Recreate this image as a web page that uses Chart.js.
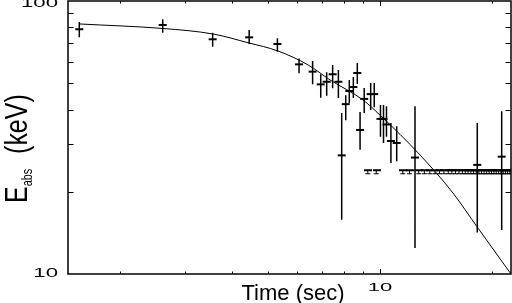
<!DOCTYPE html>
<html>
<head>
<meta charset="utf-8">
<script src="https://cdn.jsdelivr.net/npm/chart.js@4"></script>
<style>
  html, body { margin: 0; padding: 0; background: #fff; }
  canvas { display: block; }
</style>
</head>
<body>
<canvas id="grafik" width="512" height="303"></canvas>
<script>
// model curve
let curveT = [1.555, 2.61, 3.56, 4.44, 5.32, 6.41, 7.34, 9.0, 10.0, 12.81, 15.71, 18.23, 22.5];
let curveE = [82.4, 79.3, 75.7, 70.2, 65.6, 58.3, 51.4, 43.4, 38.2, 27.3, 19.8, 14.9, 10.0];

// measured points, with lower / upper ends of the error bars
let ptT  = [1.555, 2.606, 3.55, 4.45, 5.30, 6.06, 6.59, 6.93, 7.19, 7.46, 7.73, 7.89, 8.09, 8.27, 8.48, 8.69, 8.84, 9.07, 9.44, 9.65, 10.03, 10.22, 10.41, 10.70, 11.09, 12.42, 18.26, 21.24];
let ptE  = [78.8, 81.7, 72.4, 73.6, 69.6, 58.6, 55.1, 49.5, 50.6, 53.9, 50.6, 27.2, 41.9, 46.8, 48.4, 54.5, 33.7, 43.8, 45.6, 45.6, 37.0, 37.0, 35.3, 30.7, 30.2, 26.7, 25.1, 26.9];
let ptLo = [73.6, 76.5, 68.0, 69.6, 65.2, 54.4, 49.5, 44.2, 45.0, 47.9, 44.1, 15.8, 36.6, 42.3, 44.1, 49.7, 28.5, 38.9, 39.9, 40.8, 31.8, 30.2, 31.8, 25.5, 25.9, 12.45, 14.2, 14.5];
let ptHi = [83.8, 85.7, 76.5, 78.3, 73.0, 61.6, 60.3, 53.9, 54.8, 58.3, 55.9, 38.9, 45.2, 51.4, 52.7, 59.3, 39.2, 48.0, 50.1, 50.1, 41.6, 41.6, 41.2, 35.7, 34.8, 41.2, 35.7, 39.5];

// upper limits
let ulT = [9.30, 9.80, 11.55, 12.04, 12.75, 13.2, 13.65, 14.1, 14.5, 14.9, 15.3, 15.65, 16.0, 16.35, 16.7, 17.0, 17.3, 17.6, 17.9, 18.2, 18.5, 18.8, 19.1, 19.4, 19.7, 20.0, 20.3, 20.6, 20.9, 21.2, 21.5, 21.8, 22.1, 22.4];
let ulE = [24, 24, 24, 24, 24, 24, 24, 24, 24, 24, 24, 24, 24, 24, 24, 24, 24, 24, 24, 24, 24, 24, 24, 24, 24, 24, 24, 24, 24, 24, 24, 24, 24, 24];

// axis ticks
let xMinor = [2, 3, 4, 5, 6, 7, 8, 9, 20];
let xMajor = [10];
let yMinor = [20, 30, 40, 50, 60, 70, 80, 90];
let yLabels = [10, 100];

// little "upper limit" marker
let ulImg = document.createElement('canvas');
ulImg.width = 8; ulImg.height = 12;
let g = ulImg.getContext('2d');
g.fillStyle = '#000';
g.fillRect(0, 5, 8, 2);
g.fillRect(3, 6, 1, 4);
g.fillRect(1, 9, 5, 1);

function stretched(ctx, txt, x, y, sx, align) {
  ctx.save();
  ctx.translate(x, y);
  ctx.scale(sx, 1);
  ctx.textAlign = align;
  ctx.fillText(txt, 0, 0);
  ctx.restore();
}

let cerceve = {
  id: 'cerceve',
  afterDatasetsDraw(chart) {
    let ctx = chart.ctx, xs = chart.scales.x, ys = chart.scales.y;
    ctx.save();
    ctx.strokeStyle = '#000';
    ctx.lineWidth = 1.5;
    ctx.beginPath();
    for (let i = 0; i < ptT.length; i++) {
      let px = xs.getPixelForValue(ptT[i]);
      ctx.moveTo(px, ys.getPixelForValue(ptLo[i]));
      ctx.lineTo(px, ys.getPixelForValue(ptHi[i]));
    }
    ctx.stroke();
    ctx.restore();
  },
  afterDraw(chart) {
    let ctx = chart.ctx, a = chart.chartArea, xs = chart.scales.x, ys = chart.scales.y;
    ctx.save();
    ctx.strokeStyle = '#000';
    ctx.fillStyle = '#000';
    ctx.lineWidth = 1.5;
    ctx.strokeRect(a.left, a.top, a.right - a.left, a.bottom - a.top);
    ctx.lineWidth = 1;
    ctx.beginPath();
    xMinor.concat(xMajor).forEach(v => {
      let px = Math.round(xs.getPixelForValue(v)) + 0.5;
      let len = xMajor.includes(v) ? 5 : 2.5;
      ctx.moveTo(px, a.bottom); ctx.lineTo(px, a.bottom - len);
      ctx.moveTo(px, a.top); ctx.lineTo(px, a.top + len);
    });
    yMinor.forEach(v => {
      let py = Math.round(ys.getPixelForValue(v)) + 0.5;
      ctx.moveTo(a.left, py); ctx.lineTo(a.left + 5.5, py);
      ctx.moveTo(a.right, py); ctx.lineTo(a.right - 5.5, py);
    });
    ctx.stroke();

    // tick labels
    ctx.font = '12px "Liberation Sans"';
    ctx.textBaseline = 'alphabetic';
    yLabels.forEach(v => {
      let py = ys.getPixelForValue(v);
      stretched(ctx, String(v), 58, Math.max(py + 3, 6.5), 1.85, 'right');
    });
    ctx.font = '10px "Liberation Sans"';
    xMajor.forEach(v => {
      stretched(ctx, String(v), xs.getPixelForValue(v), 290.5, 2.2, 'center');
    });

    // axis titles
    ctx.font = '22px "Liberation Sans"';
    ctx.textAlign = 'center';
    ctx.fillText('Time (sec)', 293, 299.5);

    ctx.save();
    ctx.translate(27, 203);
    ctx.rotate(-Math.PI / 2);
    ctx.scale(0.78, 1);
    ctx.textAlign = 'left';
    ctx.font = '32px "Liberation Sans"';
    ctx.fillText('E', 0, 0);
    let w = ctx.measureText('E').width;
    ctx.font = '14px "Liberation Sans"';
    ctx.fillText('abs', w, 5);
    w += ctx.measureText('abs').width + 19;
    ctx.font = '32px "Liberation Sans"';
    ctx.fillText('(keV)', w, 0);
    ctx.restore();
    ctx.restore();
  }
};

let kanvas = document.getElementById('grafik');

let grafik = new Chart(kanvas, {
  type: 'scatter',
  data: {
    datasets: [
      {
        type: 'line',
        data: curveT.map((t, i) => ({ x: t, y: curveE[i] })),
        borderColor: '#000',
        borderWidth: 1,
        pointRadius: 0,
        cubicInterpolationMode: 'monotone',
        fill: false
      },
      {
        data: ptT.map((t, i) => ({ x: t, y: ptE[i] })),
        pointStyle: 'line',
        pointRadius: 4,
        borderWidth: 2,
        borderColor: '#000',
        backgroundColor: '#000'
      },
      {
        data: ulT.map((t, i) => ({ x: t, y: ulE[i] })),
        pointStyle: ulImg,
        pointRadius: 5
      }
    ]
  },
  options: {
    responsive: false,
    animation: false,
    devicePixelRatio: 1,
    layout: { autoPadding: false, padding: { top: 1, right: 1, left: 0, bottom: 0 } },
    plugins: { legend: { display: false }, tooltip: { enabled: false } },
    scales: {
      x: {
        type: 'logarithmic', min: 1.45, max: 22.5,
        ticks: { display: false }, grid: { display: false }, border: { display: false },
        afterFit(s) { s.height = 29; }
      },
      y: {
        type: 'logarithmic', min: 10, max: 100,
        ticks: { display: false }, grid: { display: false }, border: { display: false },
        afterFit(s) { s.width = 68; }
      }
    }
  },
  plugins: [cerceve]
});
</script>
</body>
</html>
